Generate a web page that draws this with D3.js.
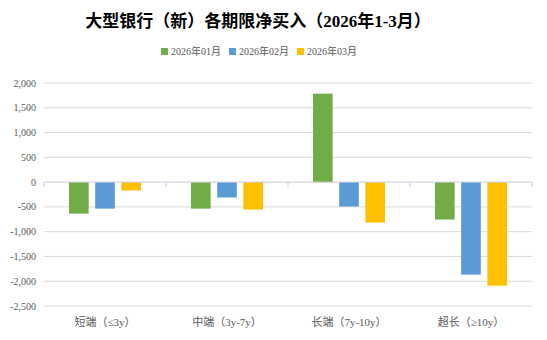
<!DOCTYPE html>
<html>
<head>
<meta charset="utf-8">
<script src="https://cdn.jsdelivr.net/npm/d3@7"></script>
<style>
  body { margin: 0; background: #fff; }
  svg { display: block; }
  .serif { font-family: 'Liberation Serif', 'Times New Roman', 'Noto Sans CJK SC', serif; }
</style>
</head>
<body>
<div id="chart"></div>
<script>
// data
const categories = ['短端（≤3y）', '中端（3y-7y）', '长端（7y-10y）', '超长（≥10y）'];
const seriesNames = ['2026年01月', '2026年02月', '2026年03月'];
const jan = [-635, -535, 1785, -755];
const feb = [-535, -310, -493, -1867];
const mar = [-170, -553, -816, -2090];
const yTicks = [2000, 1500, 1000, 500, 0, -500, -1000, -1500, -2000, -2500];

const colors = ['#70AD47', '#5B9BD5', '#FFC000'];
const textColor = '#595959';

const width = 547, height = 340;
const margin = { top: 83, right: 15, bottom: 34, left: 44 };
const innerW = width - margin.left - margin.right;
const innerH = height - margin.top - margin.bottom;

const svg = d3.select('#chart').append('svg')
  .attr('width', width)
  .attr('height', height);

// title
svg.append('text')
  .attr('x', 258)
  .attr('y', 27)
  .attr('text-anchor', 'middle')
  .attr('class', 'serif')
  .style('font-weight', 'bold')
  .style('font-size', '17px')
  .attr('fill', '#000')
  .text('大型银行（新）各期限净买入（2026年1-3月）');

// legend
const legendX = [161, 229, 297];
const legend = svg.append('g');
seriesNames.forEach((name, i) => {
  const lg = legend.append('g').attr('transform', `translate(${legendX[i]},54)`);
  lg.append('rect')
    .attr('x', 0).attr('y', -6)
    .attr('width', 7).attr('height', 7)
    .attr('fill', colors[i]);
  lg.append('text')
    .attr('class', 'serif')
    .attr('x', 10).attr('y', 1)
    .style('font-size', '10px')
    .attr('fill', textColor)
    .text(name);
});

const g = svg.append('g')
  .attr('transform', `translate(${margin.left},${margin.top})`);

const y = d3.scaleLinear()
  .domain([2000, -2500])
  .range([0, innerH]);

const x0 = d3.scaleBand()
  .domain(categories)
  .range([0, innerW])
  .paddingInner(0)
  .paddingOuter(0);

const x1 = d3.scaleBand()
  .domain(seriesNames)
  .range([25, x0.bandwidth() - 25])
  .paddingInner(0.25);

// gridlines
g.append('g')
  .selectAll('line')
  .data(yTicks.filter(d => d !== 0))
  .join('line')
  .attr('x1', 0).attr('x2', innerW)
  .attr('y1', d => y(d)).attr('y2', d => y(d))
  .attr('stroke', '#d9d9d9')
  .attr('stroke-width', 1);

// y labels
g.append('g')
  .selectAll('text')
  .data(yTicks)
  .join('text')
  .attr('class', 'serif')
  .attr('x', -8)
  .attr('y', d => y(d))
  .attr('dy', '0.35em')
  .attr('text-anchor', 'end')
  .style('font-size', '10px')
  .attr('fill', textColor)
  .text(d => d3.format(',')(d).replace('−', '-'));

// bars
const seriesData = [jan, feb, mar];
categories.forEach((cat, ci) => {
  const grp = g.append('g').attr('transform', `translate(${x0(cat)},0)`);
  seriesData.forEach((vals, si) => {
    const v = vals[ci];
    grp.append('rect')
      .attr('x', x1(seriesNames[si]))
      .attr('width', x1.bandwidth())
      .attr('y', y(Math.max(0, v)))
      .attr('height', Math.abs(y(v) - y(0)))
      .attr('fill', colors[si]);
  });
});

// zero axis with ticks
const axisG = g.append('g');
axisG.append('line')
  .attr('x1', 0).attr('x2', innerW)
  .attr('y1', y(0)).attr('y2', y(0))
  .attr('stroke', '#c9cbd9');
const tickPos = categories.map(c => x0(c)).concat([innerW]);
axisG.selectAll('.tk')
  .data(tickPos)
  .join('line')
  .attr('class', 'tk')
  .attr('x1', d => d).attr('x2', d => d)
  .attr('y1', y(0)).attr('y2', y(0) + 5)
  .attr('stroke', '#c9cbd9');

// category labels
g.append('g')
  .selectAll('text')
  .data(categories)
  .join('text')
  .attr('class', 'serif')
  .attr('x', d => x0(d) + x0.bandwidth() / 2)
  .attr('y', innerH + 20)
  .attr('text-anchor', 'middle')
  .style('font-size', '11px')
  .attr('fill', textColor)
  .text(d => d);
</script>
</body>
</html>
